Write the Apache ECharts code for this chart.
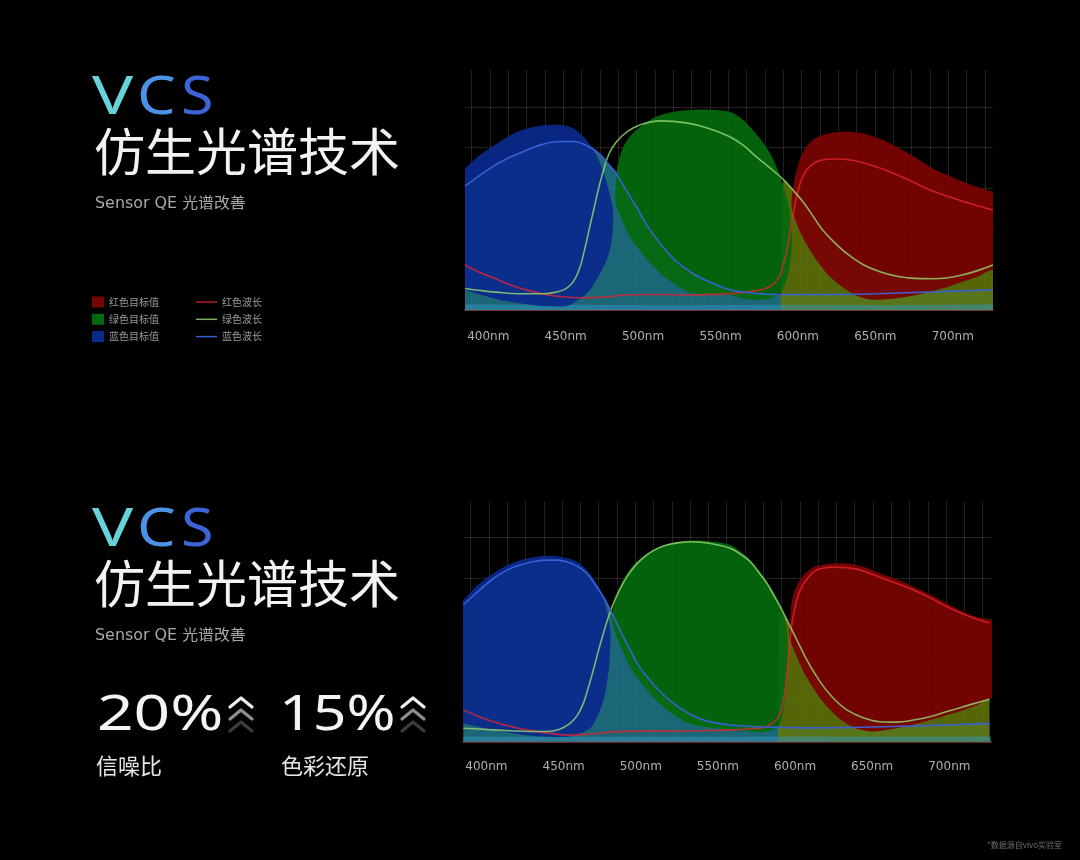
<!DOCTYPE html>
<html><head><meta charset="utf-8">
<script src="https://cdn.jsdelivr.net/npm/echarts@6/dist/echarts.min.js"></script>
<style>html,body{margin:0;padding:0;background:#000;}#c{width:1080px;height:860px;}</style>
</head><body><div id="c"></div><script>
// ---------- data ----------
const wavelengthTicks = [400, 450, 500, 550, 600, 650, 700];
const legendTargets = ['红色目标值', '绿色目标值', '蓝色目标值'];
const legendWaves = ['红色波长', '绿色波长', '蓝色波长'];

// top chart: current sensor response (wavelength nm, QE)
const topBlueWave = [[385,30.5],[395,33.3],[405,35.8],[415,37.8],[425,39.4],[435,40.8],[446,41.5],[455,41.5],[462,40.8],[468,39.6],[473,38.0],[478,35.8],[483,33.5],[489,29.6],[496,25.2],[503,20.6],[511,16.4],[520,12.5],[532,9.0],[545,6.6],[556,5.0],[570,4.2],[590,3.8],[620,3.8],[650,4.0],[690,4.5],[726,5.0]];
const topGreenWave = [[385,5.3],[395,4.8],[405,4.4],[420,4.0],[435,4.0],[444,4.4],[450,5.2],[455,7.0],[459,10.2],[462,14.5],[465,19.5],[468,24.5],[471,29.5],[474,33.8],[478,38.5],[483,41.5],[490,44.0],[498,45.6],[511,46.6],[528,46.1],[542,44.8],[556,42.7],[565,40.5],[573,37.8],[582,35.0],[591,32.0],[597,29.5],[604,26.3],[610,23.0],[616,19.7],[624,16.5],[632,13.8],[642,11.2],[653,9.4],[664,8.3],[675,7.8],[686,7.7],[696,7.9],[706,8.6],[716,9.7],[726,11.1]];
const topRedWave = [[385,11.1],[395,9.2],[404,7.8],[415,6.1],[425,4.9],[436,3.9],[447,3.3],[460,3.0],[470,3.1],[480,3.4],[490,3.7],[510,3.8],[530,3.7],[550,3.9],[565,4.3],[575,4.9],[582,5.8],[587,7.6],[590,10.5],[593,15.0],[596,21.5],[599,27.5],[603,32.8],[608,35.5],[615,36.9],[625,37.2],[635,36.9],[642,36.3],[653,35.0],[664,33.3],[675,31.4],[685,29.6],[696,28.1],[707,26.7],[717,25.6],[726,24.6]];
const topBlueTarget = [[378,33.0],[385,34.9],[394,38.0],[404,40.6],[414,43.0],[425,44.7],[438,45.6],[453,45.1],[461.5,42.7],[467,40.0],[470.2,37.8],[474,34.5],[476.6,31.2],[479,27.8],[480.5,24.6],[480.5,20],[479,15.6],[476,12],[472.3,9.0],[468,6.3],[463.7,4.1],[457,2.2],[450.8,1.0],[440,0.9],[429.3,1.2],[416,1.9],[403.5,2.9],[393,4.0],[385,4.9],[378,5.6]];
const topGreenTarget = [[482,27.1],[482.5,31],[483.1,34.5],[485,37.8],[487.3,40.2],[492,43.0],[498.1,45.1],[504,46.7],[511,48.0],[521,48.9],[532.5,49.3],[545,49.3],[556.2,48.8],[563,47.3],[569.1,45.1],[576,42.0],[582,38.6],[587,34.5],[590.6,30.4],[593.5,26.5],[594.9,23.8],[596,19.5],[596,15.6],[595.2,12.2],[593.8,9.0],[591.5,6.2],[588.4,4.1],[582,2.9],[573.4,2.5],[565,2.8],[556.2,3.7],[545,3.8],[532.5,4.1],[526,5.0],[519.6,6.6],[513,8.5],[506.7,10.7],[501,13.2],[496,15.6],[491,18.5],[487.3,21.4],[484,24.5]];
const topRedTarget = [[596,25.4],[597,30.5],[599.2,34.5],[602,37.8],[605.6,40.2],[610,42.0],[616.4,43.1],[627.1,43.9],[642.2,43.5],[653,42.2],[663.7,40.2],[675,37.8],[685.2,35.3],[696,33.3],[706.7,31.6],[716,30.3],[726,29.1],[735,28.0],[735,9.0],[726,9.9],[716,8.2],[706.7,7.0],[696,5.6],[685.2,4.5],[675,3.6],[663.7,2.9],[655,2.6],[646.5,2.6],[638,3.5],[631.5,4.9],[625,6.8],[618.6,9.0],[613,11.8],[607.8,14.8],[603,18.0],[599.2,21.4]];
const topFloor = [[385,1.4],[450,1.3],[520,1.2],[600,1.3],[660,1.2],[726,1.4]];

// bottom chart: VCS response
const botBlueWave = [[385,33.5],[395,37.0],[404.5,40.0],[413,42.0],[421.8,43.3],[430,44.1],[439,44.5],[446,44.5],[452,44.1],[459,43.0],[465,41.3],[470,38.8],[475.8,35.5],[480,32.5],[484.5,29.0],[489,25.5],[493.1,22.5],[498,19.0],[504,15.9],[512,12.5],[521.2,9.4],[530,7.2],[540.6,5.3],[558,4.1],[580,3.6],[610,3.4],[650,3.6],[690,4.0],[726,4.5]];
const botGreenWave = [[385,3.3],[400,3.0],[415.3,2.7],[428,2.5],[439,2.5],[447,3.0],[454.2,4.5],[459,6.5],[462.8,9.4],[466,13.2],[469.3,17.6],[472.5,22.2],[475.8,26.6],[479,30.5],[482.3,33.9],[486.5,37.4],[491,40.4],[497,43.4],[504,45.8],[510,47.2],[516.9,48.2],[525,48.8],[534.2,49.0],[546,48.5],[558,47.4],[564.5,46.0],[571,44.1],[576.5,41.5],[581.8,38.8],[586,36.0],[590.4,33.1],[594.8,29.8],[599,26.6],[603.3,23.3],[607.7,20.0],[613,16.6],[618.5,13.5],[625.5,10.4],[633.6,7.8],[644,5.9],[655.1,4.9],[666,4.8],[676.8,5.3],[688,6.2],[698.5,7.4],[712,8.9],[726,10.4]];
const botRedWave = [[385,7.8],[395,6.2],[404.5,4.9],[415,3.8],[426,2.9],[440,2.1],[454,1.6],[468,1.9],[482,2.4],[500,2.6],[520,2.6],[540,2.7],[560,2.9],[572,3.2],[579.6,3.5],[585,4.4],[589.3,6.1],[591.8,8.8],[593.6,12.7],[594.8,16.7],[595.8,20.8],[596.8,25.0],[598,29.0],[600.3,33.5],[603.4,37.2],[608,40.0],[614.2,42.1],[625,42.8],[640,42.3],[655,40.3],[666,38.8],[676.8,37.2],[688,35.2],[698.5,33.1],[713,30.7],[726,29.1]];
const botBlueTarget = [[378,32.5],[385,34.7],[394,38.3],[404.5,41.3],[415,43.5],[426.1,44.9],[441.2,45.6],[454.2,44.8],[460,43.8],[465,42.1],[469.5,39.9],[473.7,37.2],[476.5,34.2],[479,30.6],[480.3,26.5],[480.1,22.5],[479.5,18.3],[478,14.3],[476.2,10.8],[473.7,7.8],[470.6,5.3],[467.2,3.3],[460,1.9],[452,1.2],[440,1.2],[426.1,1.6],[415,2.2],[404.5,2.9],[394,3.7],[385,4.5],[378,5.1]];
const botGreenTarget = [[481.2,30.6],[483.5,34.6],[486.6,38.0],[491.5,41.4],[497.4,44.1],[504.5,46.2],[512.6,47.8],[523,48.9],[534.2,49.3],[546,49.1],[558,48.2],[564.5,46.6],[571,44.5],[576.5,42.0],[581.8,39.2],[586.5,36.3],[590.4,33.5],[593,30.5],[594.7,27.4],[595.3,23.3],[595.1,19.2],[594.5,15.0],[593.6,11.0],[592.3,7.5],[590.4,4.5],[586.5,3.1],[581.8,2.5],[574,2.4],[566.6,2.7],[552,3.2],[534.2,4.1],[525,5.7],[517,7.8],[510,10.1],[504,12.7],[498,15.5],[493.1,18.4],[488.5,22.0],[484.5,25.7],[482.3,28.2]];
const botRedTarget = [[596.4,25.7],[597,30.5],[598,34.7],[600.8,38.0],[604.5,40.4],[609,42.0],[614.2,43.1],[625,43.7],[640.1,43.3],[655.2,41.3],[666,39.8],[676.8,38.0],[688,36.0],[698.5,33.9],[713.6,31.1],[727,29.8],[736,29.0],[736,10.0],[727,10.6],[718,9.0],[709.3,7.8],[698,6.5],[687.7,5.3],[677,4.2],[666.1,3.3],[658,2.8],[650.9,2.5],[644,2.8],[638,3.5],[630,5.3],[622.8,7.8],[616,10.8],[609.8,14.3],[605,17.5],[601.2,20.8],[598.5,23.3]];
const botFloor = [[385,1.3],[450,1.2],[520,1.2],[600,1.3],[660,1.2],[727,1.3]];

// ---------- chart ----------
const CJK = '"Noto Sans CJK SC", "Noto Sans", sans-serif';
const chart = echarts.init(document.getElementById('c'), null, {renderer: 'canvas'});

const C = {
  blueBlob: '#0a2a8c', greenBlob: '#04690d', redBlob: '#780303',
  teal: 'rgba(32,120,140,0.85)', olive: 'rgba(100,120,10,0.85)', floor: 'rgba(50,150,190,0.5)',
  blueLine: '#3b60d6', greenLine: 'rgba(150,212,112,0.82)', redLine: 'rgba(228,36,46,0.8)'
};

function areaSeries(data, color, xi, yi) {
  return {type: 'line', xAxisIndex: xi, yAxisIndex: yi, data: data, smooth: 0.4, symbol: 'none', showSymbol: false,
    silent: true, z: 2, lineStyle: {width: 0, opacity: 0}, areaStyle: {color: color, opacity: 1}};
}
function lineSeries(name, data, color, xi, yi) {
  return {type: 'line', name: name, xAxisIndex: xi, yAxisIndex: yi, data: data, smooth: 0.4, symbol: 'none',
    showSymbol: false, silent: true, z: 4, lineStyle: {color: color, width: 1.6}, itemStyle: {color: color}};
}
function blobSeries(name, outline, color, opacity, xi, yi) {
  return {type: 'custom', name: name, xAxisIndex: xi, yAxisIndex: yi, coordinateSystem: 'cartesian2d',
    z: 3, clip: true, silent: true, itemStyle: {color: color}, data: [outline[0]], encode: {x: 0, y: 1},
    renderItem: function (params, api) {
      return {type: 'polygon', shape: {points: outline.map(function (p) { return api.coord(p); }), smooth: 0.35},
        style: {fill: color, opacity: opacity}};
    }};
}
function chartSeries(xi, yi, blueW, greenW, redW, blueT, greenT, redT, floor) {
  const olive = [[589, 0]].concat(greenW.filter(function (p) { return p[0] >= 590; }));
  return [
    areaSeries(blueW, C.teal, xi, yi),
    areaSeries(olive, C.olive, xi, yi),
    areaSeries(floor, C.floor, xi, yi),
    blobSeries('蓝色目标值', blueT, C.blueBlob, 0.93, xi, yi),
    blobSeries('绿色目标值', greenT, C.greenBlob, 0.93, xi, yi),
    blobSeries('红色目标值', redT, C.redBlob, 0.94, xi, yi),
    lineSeries('红色波长', redW, C.redLine, xi, yi),
    lineSeries('绿色波长', greenW, C.greenLine, xi, yi),
    lineSeries('蓝色波长', blueW, C.blueLine, xi, yi)
  ];
}

const hLine = 'rgba(255,255,255,0.13)';
function dataX(gi, max, margin) {
  return {type: 'value', gridIndex: gi, min: 385, max: max,
    axisLine: {show: true, lineStyle: {color: '#8e3a3a', width: 1.5}}, axisTick: {show: false},
    splitLine: {show: false},
    axisLabel: {customValues: wavelengthTicks, formatter: '{value}nm', color: '#b0b0b0', fontSize: 12,
      margin: margin, fontFamily: '"DejaVu Sans", sans-serif'}};
}
function dataY(gi) {
  return {type: 'value', gridIndex: gi, min: 0, max: 59, interval: 10, axisLine: {show: false},
    axisTick: {show: false}, axisLabel: {show: false},
    splitLine: {show: true, showMaxLine: false,
      lineStyle: {color: [hLine, hLine, hLine, hLine, hLine, hLine, 'rgba(0,0,0,0)'], width: 1}}};
}
function gridX(gi) {
  return {type: 'value', gridIndex: gi, min: 0, max: 28, interval: 1, axisLine: {show: false},
    axisTick: {show: false}, axisLabel: {show: false},
    splitLine: {show: true, lineStyle: {color: 'rgba(255,255,255,0.13)', width: 1}}};
}
function gridY(gi) {
  return {type: 'value', gridIndex: gi, min: 0, max: 1, show: false, splitLine: {show: false}};
}

function vcs(top) {
  const letters = [['V', 92, '#68d2da', 1.32], ['C', 137, '#4c92e6', 1.18], ['S', 181, '#3d63d8', 1.14]];
  return letters.map(function (l) {
    return {type: 'text', x: l[1], y: top + 27, scaleX: l[3],
      style: {text: l[0], font: '400 52px "Noto Sans", sans-serif', fill: l[2], verticalAlign: 'middle', align: 'left'}};
  });
}
function titleBlock(top) {
  return vcs(top).concat([
    {type: 'text', x: 94, y: top + 80, style: {text: '仿生光谱技术', font: '400 51px ' + CJK, fill: '#f2f2f2',
      verticalAlign: 'middle', align: 'left'}},
    {type: 'text', x: 95, y: top + 132, scaleX: 1.06, style: {text: 'Sensor QE 光谱改善',
      font: '400 15px "DejaVu Sans", "Noto Sans CJK SC", sans-serif', fill: '#a8a8a8',
      verticalAlign: 'middle', align: 'left'}}
  ]);
}
function chevrons(x, y) {
  const cols = ['#ededed', '#8c8c8c', '#3c3c3c'];
  return cols.map(function (c, i) {
    return {type: 'polyline', shape: {points: [[x, y + 9 + i * 12], [x + 11, y + i * 12], [x + 22, y + 9 + i * 12]]},
      style: {stroke: c, lineWidth: 3.2, fill: null, lineCap: 'round', lineJoin: 'round'}};
  });
}

const graphics = []
  .concat(titleBlock(72))
  .concat(titleBlock(504))
  .concat([
    {type: 'text', x: 97, y: 716, scaleX: 1.28, style: {text: '20%', font: '400 50px "Noto Sans", sans-serif', fill: '#f4f4f4', verticalAlign: 'middle'}},
    {type: 'text', x: 279, y: 716, scaleX: 1.18, style: {text: '15%', font: '400 50px "Noto Sans", sans-serif', fill: '#f4f4f4', verticalAlign: 'middle'}},
    {type: 'text', x: 96, y: 766, style: {text: '信噪比', font: '400 22px ' + CJK, fill: '#e6e6e6', verticalAlign: 'middle'}},
    {type: 'text', x: 281, y: 766, style: {text: '色彩还原', font: '400 22px ' + CJK, fill: '#e6e6e6', verticalAlign: 'middle'}},
    {type: 'text', x: 987, y: 845, style: {text: '*数据源自vivo实验室', font: '400 8px ' + CJK, fill: '#6e6e6e', verticalAlign: 'middle'}}
  ])
  .concat(chevrons(230, 698))
  .concat(chevrons(402, 698));

chart.setOption({
  backgroundColor: '#000',
  animation: false,
  grid: [
    {left: 465, top: 70.5, width: 528, height: 239.5},
    {left: 471.7, top: 70, width: 513.3, height: 240},
    {left: 463.3, top: 501, width: 527.7, height: 240.7},
    {left: 470.7, top: 501.5, width: 512, height: 240.2}
  ],
  xAxis: [dataX(0, 726, 21), gridX(1), dataX(2, 727, 19), gridX(3)],
  yAxis: [dataY(0), gridY(1), dataY(2), gridY(3)],
  legend: [
    {data: legendTargets, orient: 'vertical', left: 92, top: 296, padding: 0, icon: 'rect', itemWidth: 12, itemHeight: 11,
      itemGap: 5.3, selectedMode: false, textStyle: {color: '#9a9a9a', fontSize: 10, fontFamily: CJK, lineHeight: 12}},
    {data: legendWaves, orient: 'vertical', left: 196, top: 296, padding: 0, icon: 'rect', itemWidth: 21, itemHeight: 1.5,
      itemGap: 5.3, selectedMode: false, textStyle: {color: '#9a9a9a', fontSize: 10, fontFamily: CJK, lineHeight: 12}}
  ],
  graphic: {elements: graphics},
  series: []
    .concat(chartSeries(0, 0, topBlueWave, topGreenWave, topRedWave, topBlueTarget, topGreenTarget, topRedTarget, topFloor))
    .concat(chartSeries(2, 2, botBlueWave, botGreenWave, botRedWave, botBlueTarget, botGreenTarget, botRedTarget, botFloor))
});
</script></body></html>
